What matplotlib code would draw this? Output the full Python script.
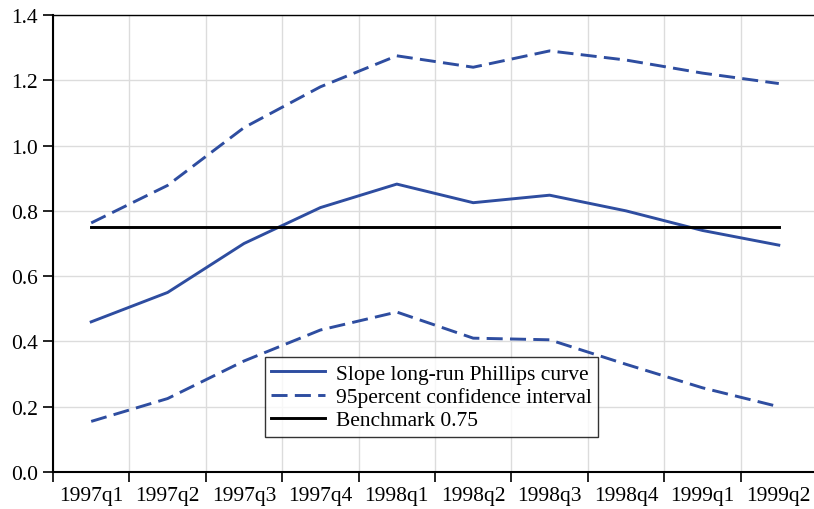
import matplotlib.pyplot as plt
import numpy as np

# data
quarters = ["1997q1", "1997q2", "1997q3", "1997q4", "1998q1",
            "1998q2", "1998q3", "1998q4", "1999q1", "1999q2"]
slope = [0.46, 0.55, 0.70, 0.81, 0.882, 0.825, 0.848, 0.80, 0.74, 0.695]
upper = [0.763, 0.878, 1.055, 1.18, 1.275, 1.24, 1.29, 1.262, 1.222, 1.19]
lower = [0.155, 0.225, 0.34, 0.435, 0.49, 0.41, 0.405, 0.33, 0.258, 0.20]
benchmark = 0.75

plt.rcParams['font.family'] = ['Liberation Serif', 'DejaVu Serif']
blue = '#2E4DA0'

fig = plt.figure(figsize=(8.14, 5.10), dpi=100)
ax = fig.add_axes([53 / 814, 37 / 510, 764 / 814, 457 / 510])

x = np.arange(len(quarters))
ax.plot(x, slope, color=blue, lw=2.1, label="Slope long-run Phillips curve")
ax.plot(x, upper, color=blue, lw=2.1, dashes=(5.5, 2.5),
        label="95percent confidence interval")
ax.plot(x, lower, color=blue, lw=2.1, dashes=(5.5, 2.5))
ax.plot(x, [benchmark] * len(x), color='black', lw=2.1, label="Benchmark 0.75")

ax.set_xlim(-0.5, len(quarters) - 0.5)
ax.set_ylim(0, 1.4)
ax.set_yticks(np.arange(0, 1.41, 0.2))
ax.set_yticklabels([f"{v:.1f}" for v in np.arange(0, 1.41, 0.2)])

# ticks at boundaries, labels at centres
ax.set_xticks(np.arange(-0.5, len(quarters), 1.0))
ax.set_xticklabels([])
ax.set_xticks(x, minor=True)
ax.set_xticklabels(quarters, minor=True)
ax.tick_params(axis='x', which='minor', length=0, pad=10, labelsize=15.5)
ax.tick_params(axis='x', which='major', length=7, width=1.2, direction='out')
ax.tick_params(axis='y', length=7, width=1.2, direction='out', labelsize=15.5, pad=4)

ax.grid(True, which='major', color='#dcdcdc', lw=1.0)
ax.set_axisbelow(True)

for s in ['left', 'bottom']:
    ax.spines[s].set_linewidth(1.5)
ax.spines['top'].set_linewidth(1.0)
ax.spines['right'].set_visible(False)

leg = ax.legend(loc='upper left', bbox_to_anchor=(0.277, 0.251), fontsize=15.5,
                frameon=True, fancybox=False, edgecolor='black',
                handlelength=2.5, handletextpad=0.5, borderpad=0.3,
                labelspacing=0.15, borderaxespad=0)
leg.get_frame().set_linewidth(1.0)

fig.savefig("out.png", dpi=100)
